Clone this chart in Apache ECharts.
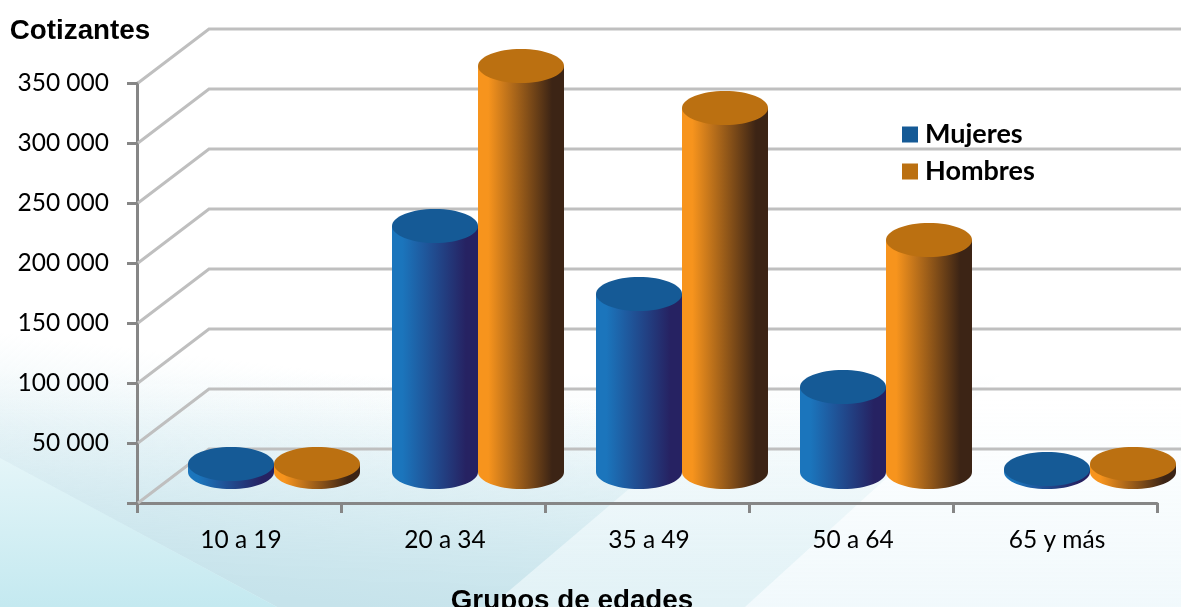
<!DOCTYPE html>
<html>
<head>
<meta charset="utf-8">
<style>html,body{margin:0;padding:0;background:#fff}#c{width:1181px;height:607px}</style>
<script src="https://cdn.jsdelivr.net/npm/echarts@6/dist/echarts.min.js"></script>
</head>
<body>
<div id="c"></div>
<script>
const categories = ['10 a 19', '20 a 34', '35 a 49', '50 a 64', '65 y más'];
const mujeres = [6700, 205000, 148300, 70800, 2500];
const hombres = [6700, 338300, 303300, 193300, 6700];
const valueTicks = [0, 50000, 100000, 150000, 200000, 250000, 300000, 350000];
const tickLabels = ['', '50 000', '100 000', '150 000', '200 000', '250 000', '300 000', '350 000'];

const DX = 72, DY = -54, RX = 43, RY = 17, MIDX = 35, MIDY = -31;

function cylinder(side, gradStops, topColor) {
  return function (params, api) {
    const base = api.coord([api.value(0), 0]);
    const top = api.coord([api.value(0), api.value(1)]);
    const cx = base[0] + MIDX + side * RX;
    const yb = base[1] + MIDY, yt = top[1] + MIDY;
    const fill = new echarts.graphic.LinearGradient(0, 0, 1, 0, gradStops);
    return {
      type: 'group',
      children: [
        { type: 'ellipse', shape: { cx, cy: yb, rx: RX, ry: RY }, style: { fill } },
        { type: 'rect', shape: { x: cx - RX, y: yt, width: RX * 2, height: yb - yt }, style: { fill } },
        { type: 'ellipse', shape: { cx, cy: yt, rx: RX, ry: RY }, style: { fill: topColor } }
      ]
    };
  };
}

const blueSide = [{ offset: 0, color: '#1b75bc' }, { offset: 0.12, color: '#1b75bc' }, { offset: 0.86, color: '#262262' }, { offset: 1, color: '#262262' }];
const orangeSide = [{ offset: 0, color: '#f7941d' }, { offset: 0.12, color: '#f7941d' }, { offset: 0.86, color: '#3c2415' }, { offset: 1, color: '#3c2415' }];

function fade(x0, y0, x1, y1, rgb, alphas) {
  return new echarts.graphic.LinearGradient(x0, y0, x1, y1,
    alphas.map(a => ({ offset: a[0], color: 'rgba(' + rgb + ',' + a[1] + ')' })), true);
}

const chart = echarts.init(document.getElementById('c'), null, { renderer: 'canvas' });
chart.setOption({
  animation: false,
  backgroundColor: 'transparent',
  graphic: [
    { type: 'rect', z: -10, silent: true, shape: { x: 0, y: 0, width: 1181, height: 607 },
      style: { fill: fade(0, 400, 0, 607, '241,249,252', [[0, 0], [1, 1]]) } },
    { type: 'polygon', z: -9, silent: true, shape: { points: [[745, 607], [1005, 370], [0, 370], [0, 607]] },
      style: { fill: fade(0, 607, 0, 370, '226,242,246', [[0, 1], [0.65, 0.3], [1, 0]]) } },
    { type: 'polygon', z: -8, silent: true, shape: { points: [[490, 607], [816, 330], [0, 330], [0, 607]] },
      style: { fill: fade(300, 600, 327, 371, '198,227,235', [[0, 1], [0.5, 0.45], [0.85, 0.12], [1, 0]]) } },
    { type: 'polygon', z: -7, silent: true, shape: { points: [[0, 458], [277, 607], [0, 607]] },
      style: { fill: fade(0, 458, 0, 607, '228,245,248', [[0, 1], [1, 1]]) } },
    { type: 'polygon', z: -6, silent: true, shape: { points: [[0, 458], [277, 607], [0, 607]] },
      style: { fill: fade(0, 458, 0, 607, '196,233,240', [[0, 0], [1, 1]]) } }
  ],
  grid: { left: 137, right: 24, top: 83, bottom: 104, outerBoundsMode: 'none' },
  legend: {
    orient: 'vertical', left: 897, top: 116, itemWidth: 16, itemHeight: 16, itemGap: 10, icon: 'rect',
    data: ['Mujeres', 'Hombres'],
    textStyle: { fontFamily: 'Lato', fontWeight: 'bold', fontSize: 27, color: '#000', padding: [0, 0, 0, 2] }
  },
  xAxis: {
    type: 'category', data: categories,
    name: 'Grupos de edades', nameLocation: 'middle', nameGap: 84,
    nameTextStyle: { fontFamily: 'Liberation Sans', fontWeight: 'bold', fontSize: 27.8, color: '#000', padding: [0, 150, 0, 0] },
    axisLine: { lineStyle: { color: '#868686', width: 3 } },
    axisTick: { show: true, alignWithLabel: false, length: 10, lineStyle: { color: '#868686', width: 3 } },
    axisLabel: { fontFamily: 'Lato', fontSize: 24.5, color: '#000', margin: 25, padding: [0, 0, 0, 4] },
    splitLine: { show: false }
  },
  yAxis: {
    type: 'value', min: 0, max: 350000, interval: 50000,
    name: 'Cotizantes', nameLocation: 'end', nameGap: 38,
    nameTextStyle: { fontFamily: 'Liberation Sans', fontWeight: 'bold', fontSize: 27.8, color: '#000', padding: [0, 114, 0, 0] },
    axisLine: { show: true, lineStyle: { color: '#868686', width: 3 } },
    axisTick: { show: true, length: 10, lineStyle: { color: '#868686', width: 3 } },
    axisLabel: { fontFamily: 'Lato', fontSize: 24.5, color: '#000', margin: 28, padding: [4, 0, 0, 0],
      formatter: v => tickLabels[valueTicks.indexOf(v)] },
    splitLine: { show: false }
  },
  series: [
    {
      type: 'custom', name: 'Muro', z: 1, silent: true, clip: false, legendHoverLink: false,
      data: valueTicks.map(v => [categories[0], v]),
      encode: { x: 0, y: 1 },
      renderItem(params, api) {
        const y = api.coord([api.value(0), api.value(1)])[1];
        const cs = params.coordSys;
        return {
          type: 'polyline',
          shape: { points: [[cs.x + 1, y], [cs.x + DX, y + DY], [cs.x + cs.width + DX, y + DY]] },
          style: { stroke: '#bfbfbf', lineWidth: 3, fill: 'none', lineJoin: 'miter' }
        };
      }
    },
    {
      type: 'custom', name: 'Mujeres', z: 3, clip: false,
      itemStyle: { color: '#155a96' },
      data: categories.map((c, i) => [c, mujeres[i]]),
      encode: { x: 0, y: 1 },
      renderItem: cylinder(-1, blueSide, '#155a96')
    },
    {
      type: 'custom', name: 'Hombres', z: 3, clip: false,
      itemStyle: { color: '#bb7011' },
      data: categories.map((c, i) => [c, hombres[i]]),
      encode: { x: 0, y: 1 },
      renderItem: cylinder(1, orangeSide, '#bb7011')
    }
  ]
});
</script>
</body>
</html>
